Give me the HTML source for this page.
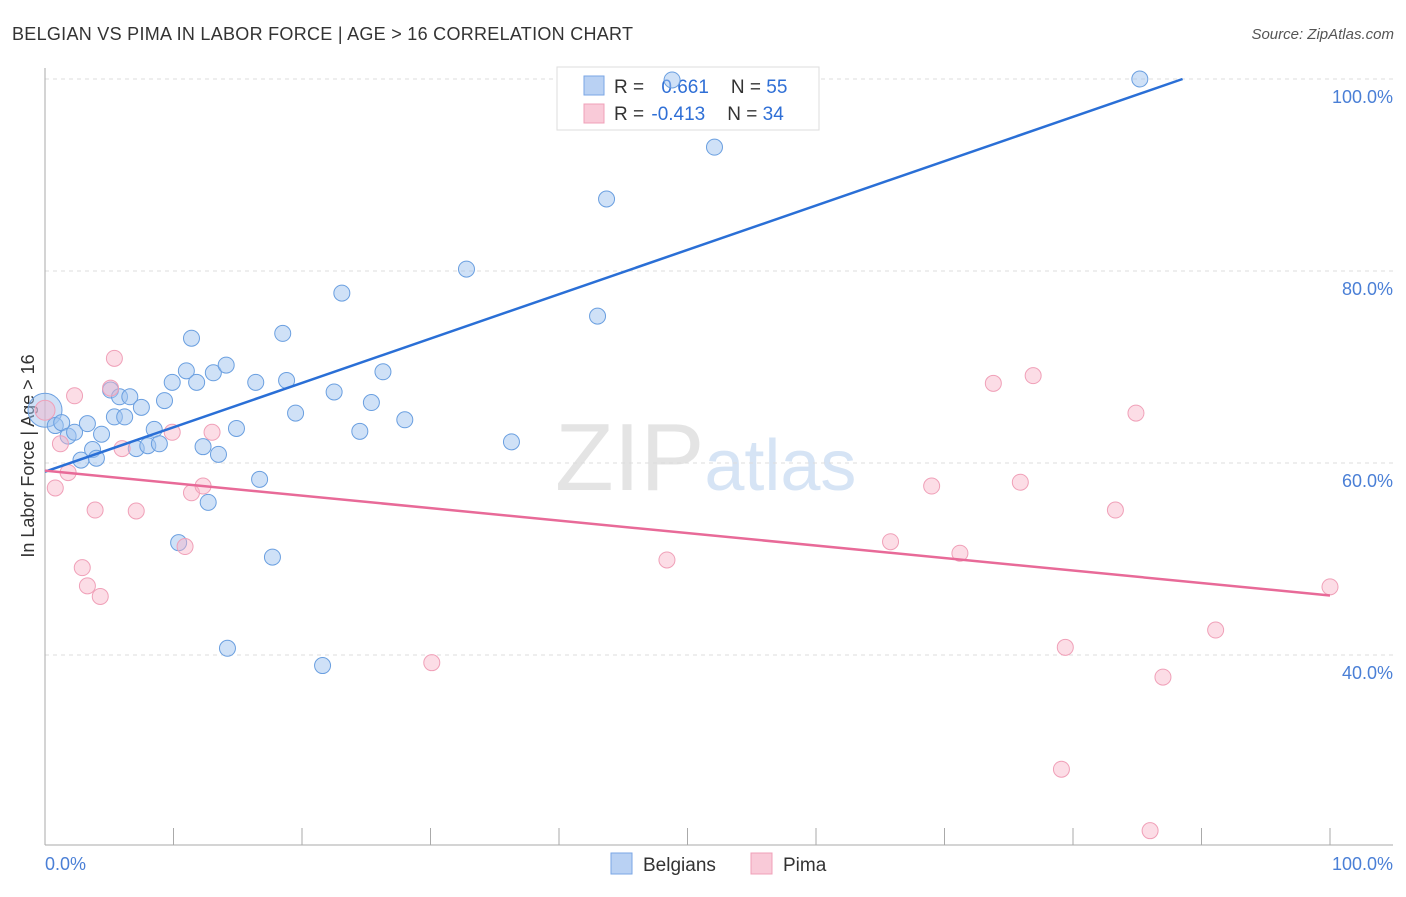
<!DOCTYPE html>
<html><head><meta charset="utf-8"><style>
body{margin:0;background:#fff;font-family:"Liberation Sans",sans-serif;}
svg text{font-family:"Liberation Sans",sans-serif;}
</style></head><body>
<svg width="1406" height="892" xmlns="http://www.w3.org/2000/svg" id="chart">
<text x="12" y="40" font-size="18" fill="#333" textLength="621">BELGIAN VS PIMA IN LABOR FORCE | AGE &gt; 16 CORRELATION CHART</text>
<text x="1394" y="39" font-size="15" fill="#555" text-anchor="end" font-style="italic">Source: ZipAtlas.com</text>
<text x="555" y="490" font-size="96" fill="#e4e4e4" font-family="Liberation Serif">ZIP<tspan fill="#d6e4f5" font-family="Liberation Sans" font-size="72">atlas</tspan></text>
<g id="grid"></g>
<line x1="45" y1="68" x2="45" y2="845" stroke="#aaa"/>
<line x1="45" y1="845" x2="1393" y2="845" stroke="#aaa"/>
<text transform="translate(34,456) rotate(-90)" font-size="18" fill="#333" text-anchor="middle">In Labor Force | Age &gt; 16</text>
<text x="45" y="870" font-size="18" fill="#4a7fd6">0.0%</text>
<text x="1393" y="870" font-size="18" fill="#4a7fd6" text-anchor="end">100.0%</text>
<g>
<rect x="557" y="67" width="262" height="63" fill="#fff" stroke="#ddd"/>
<rect x="584" y="76" width="20" height="19" fill="#b9d1f3" stroke="#7aa6e6"/>
<rect x="584" y="104" width="20" height="19" fill="#f9cad8" stroke="#f0a0b8"/>
<text x="614" y="93" font-size="19" fill="#333">R = <tspan fill="#2f6fd6" dx="12">0.661</tspan><tspan dx="22" fill="#333">N = </tspan><tspan fill="#2f6fd6">55</tspan></text>
<text x="614" y="120" font-size="19" fill="#333">R = <tspan fill="#2f6fd6" dx="2">-0.413</tspan><tspan dx="22" fill="#333">N = </tspan><tspan fill="#2f6fd6">34</tspan></text>
</g>
<g id="marks"></g>
<g>
<rect x="611" y="853" width="21" height="21" fill="#b9d1f3" stroke="#7aa6e6"/>
<text x="643" y="871" font-size="19" fill="#333">Belgians</text>
<rect x="751" y="853" width="21" height="21" fill="#f9cad8" stroke="#f0a0b8"/>
<text x="783" y="871" font-size="19" fill="#333">Pima</text>
</g>
</svg>
<script>
const yTicks=[100,80,60,40];
const yTickLabels=["100.0%","80.0%","60.0%","40.0%"];
const xTicks=[10,20,30,40,50,60,70,80,90,100];
const belgX=[0,0.8,1.3,1.8,2.3,3.3,2.8,3.7,4.0,4.4,5.1,5.4,5.8,6.2,6.6,7.1,7.5,8.0,8.5,8.9,9.3,9.9,10.4,11.0,11.4,11.8,12.3,12.7,13.1,13.5,14.1,14.2,14.9,16.4,16.7,17.7,18.5,18.8,19.5,21.6,22.5,23.1,24.5,25.4,26.3,28.0,32.8,36.3,43.0,43.7,48.8,52.1,85.2];
const belgY=[65.5,63.9,64.2,62.8,63.2,64.1,60.3,61.4,60.5,63.0,67.6,64.8,66.9,64.8,66.9,61.5,65.8,61.8,63.5,62.0,66.5,68.4,51.7,69.6,73.0,68.4,61.7,55.9,69.4,60.9,70.2,40.7,63.6,68.4,58.3,50.2,73.5,68.6,65.2,38.9,67.4,77.7,63.3,66.3,69.5,64.5,80.2,62.2,75.3,87.5,99.9,92.9,100];
const pimaX=[0,0.8,1.2,1.8,2.3,2.9,3.3,3.9,4.3,5.1,5.4,6.0,7.1,9.9,10.9,11.4,12.3,13.0,30.1,48.4,65.8,69.0,71.2,73.8,75.9,76.9,79.1,79.4,83.3,84.9,86.0,87.0,91.1,100];
const pimaY=[65.5,57.4,62.0,59.0,67.0,49.1,47.2,55.1,46.1,67.8,70.9,61.5,55.0,63.2,51.3,56.9,57.6,63.2,39.2,49.9,51.8,57.6,50.6,68.3,58.0,69.1,28.1,40.8,55.1,65.2,21.7,37.7,42.6,47.1];
const belgTrend=[59.1,0.462];
const pimaTrend=[59.2,-0.13];
const NS="http://www.w3.org/2000/svg";
const xs=v=>45+v*12.85, ys=v=>79+(100-v)*9.6;
function mk(t,a,p){const e=document.createElementNS(NS,t);for(const k in a)e.setAttribute(k,a[k]);p.appendChild(e);return e;}
const grid=document.getElementById('grid'),marks=document.getElementById('marks');
yTicks.forEach((t,i)=>{
 const l=mk('line',{x1:45,x2:1393,y1:ys(t),y2:ys(t),stroke:'#ddd','stroke-dasharray':'4,4'},grid);
 
 
 const tx=mk('text',{x:1393,y:ys(t)+24,'font-size':18,fill:'#4a7fd6','text-anchor':'end'},grid);
 tx.textContent=yTickLabels[i];
 
 
});
xTicks.forEach(t=>{
 const l=mk('line',{x1:xs(t),x2:xs(t),y1:828,y2:845,stroke:'#aaa'},grid);
 
 
});
belgX.forEach((x,i)=>{
 const c=mk('circle',{cx:xs(x),cy:ys(belgY[i]),r:i==0?17:8,fill:'rgba(160,196,240,0.5)',stroke:'#6a9fe0','stroke-width':1},marks);
 
 
});
pimaX.forEach((x,i)=>{
 const c=mk('circle',{cx:xs(x),cy:ys(pimaY[i]),r:i==0?10:8,fill:'rgba(248,180,200,0.45)',stroke:'#f0a0b8','stroke-width':1},marks);
 
 
});
const bEnd=(100-belgTrend[0])/belgTrend[1];
const bl=mk('line',{x1:xs(0),y1:ys(belgTrend[0]),x2:xs(bEnd),y2:ys(100),stroke:'#2a6fd6','stroke-width':2.5},marks);


const pl=mk('line',{x1:xs(0),y1:ys(pimaTrend[0]),x2:xs(100),y2:ys(pimaTrend[0]+pimaTrend[1]*100),stroke:'#e86a98','stroke-width':2.5},marks);


</script>
</body></html>
